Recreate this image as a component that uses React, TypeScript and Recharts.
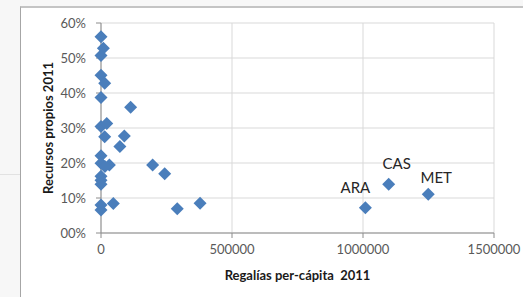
import React from 'react';
import { ScatterChart, Scatter, XAxis, YAxis, CartesianGrid, LabelList } from 'recharts';

// municipality codes (only the three big ones carry a visible label)
const names = [
  '', '', '', '', '', '', '', '', '', '', '', '', '', '', '', '', '', '', '', '', '', '', '', '', '', '',
  'ARA', 'CAS', 'MET',
];
// regalías per-cápita 2011
const regalias = [
  0, 9000, 0, 0, 14000, 0, 113000, 0, 22000, 14000, 89000, 72000, 0, 0, 32000, 15000, 197000, 243000,
  0, 0, 0, 0, 0, 47000, 291000, 378000, 1009000, 1098000, 1249000,
];
// recursos propios 2011 (share)
const recursos = [
  0.561, 0.528, 0.507, 0.451, 0.428, 0.387, 0.359, 0.304, 0.313, 0.275, 0.277, 0.247, 0.221, 0.199,
  0.194, 0.19, 0.194, 0.169, 0.162, 0.151, 0.139, 0.08, 0.066, 0.084, 0.069, 0.085, 0.072, 0.139, 0.111,
];

const xTicks = [0, 500000, 1000000, 1500000];
const yTicks = [0, 0.1, 0.2, 0.3, 0.4, 0.5, 0.6];

const data = regalias.map((x, i) => ({ x, y: recursos[i], name: names[i] }));

const BLUE = '#4a7ebb';
const FONT = 'Lato, "Open Sans", sans-serif';

// where Excel put each data label relative to its marker
const labelOffset: Record<string, [number, number]> = {
  ARA: [-10, -21],
  CAS: [8, -21],
  MET: [8, -17],
};

const Diamond = (props: any) => {
  const { cx, cy } = props;
  const r = 6.5;
  return <polygon points={`${cx},${cy - r} ${cx + r},${cy} ${cx},${cy + r} ${cx - r},${cy}`} fill={BLUE} />;
};

// Excel number format "00%"
const pct = (v: number) => `${String(Math.round(v * 100)).padStart(2, '0')}%`;

const PointLabel = (props: any) => {
  const { x, y, width, height, value } = props;
  if (!value) return null;
  const [dx, dy] = labelOffset[value] || [0, -18];
  return (
    <text
      x={x + width / 2 + dx}
      y={y + height / 2 + dy}
      textAnchor="middle"
      dominantBaseline="central"
      fill="#262626"
      fontSize={15}
      fontFamily={FONT}
    >
      {value}
    </text>
  );
};

export default function App() {
  return (
    <div style={{ position: 'absolute', left: 0, top: 0, width: 523, height: 297, background: '#f7f7f7', overflow: 'hidden' }}>
      <div
        style={{
          position: 'absolute',
          left: 20,
          top: 6,
          width: 520,
          height: 300,
          background: '#fff',
          borderLeft: '1px solid #a6a6a6',
          borderTop: '2px solid #c4c4c4',
        }}
      />
      <div style={{ position: 'absolute', left: 0, top: 174, width: 20, height: 1, background: '#e2e2e2' }} />
      <div style={{ position: 'absolute', left: 0, top: 0 }}>
        <ScatterChart width={523} height={297} margin={{ top: 23, right: 29, bottom: 0, left: 41 }}>
          <CartesianGrid stroke="#d9d9d9" />
          <XAxis
            type="number"
            dataKey="x"
            domain={[0, 1500000]}
            ticks={xTicks}
            height={64}
            stroke="#8c8c8c"
            tickSize={5}
            tickMargin={7}
            tick={{ fill: '#595959', fontSize: 13, fontFamily: FONT }}
            label={{
              value: 'Regalías per-cápita\u00a0 2011',
              position: 'center',
              dy: 10,
              style: { fill: '#1a1a1a', fontSize: 13, fontWeight: 700, fontFamily: FONT },
            }}
          />
          <YAxis
            type="number"
            dataKey="y"
            domain={[0, 0.6]}
            ticks={yTicks}
            width={60}
            stroke="#8c8c8c"
            tickSize={5}
            tickMargin={10}
            tickFormatter={pct}
            tick={{ fill: '#595959', fontSize: 13, fontFamily: FONT }}
            label={{
              value: 'Recursos propios 2011',
              position: 'center',
              angle: -90,
              dx: -23,
              style: { fill: '#1a1a1a', fontSize: 13, fontWeight: 700, fontFamily: FONT, textAnchor: 'middle' },
            }}
          />
          <Scatter data={data} fill={BLUE} shape={<Diamond />} isAnimationActive={false}>
            <LabelList dataKey="name" content={<PointLabel />} />
          </Scatter>
        </ScatterChart>
      </div>
    </div>
  );
}
